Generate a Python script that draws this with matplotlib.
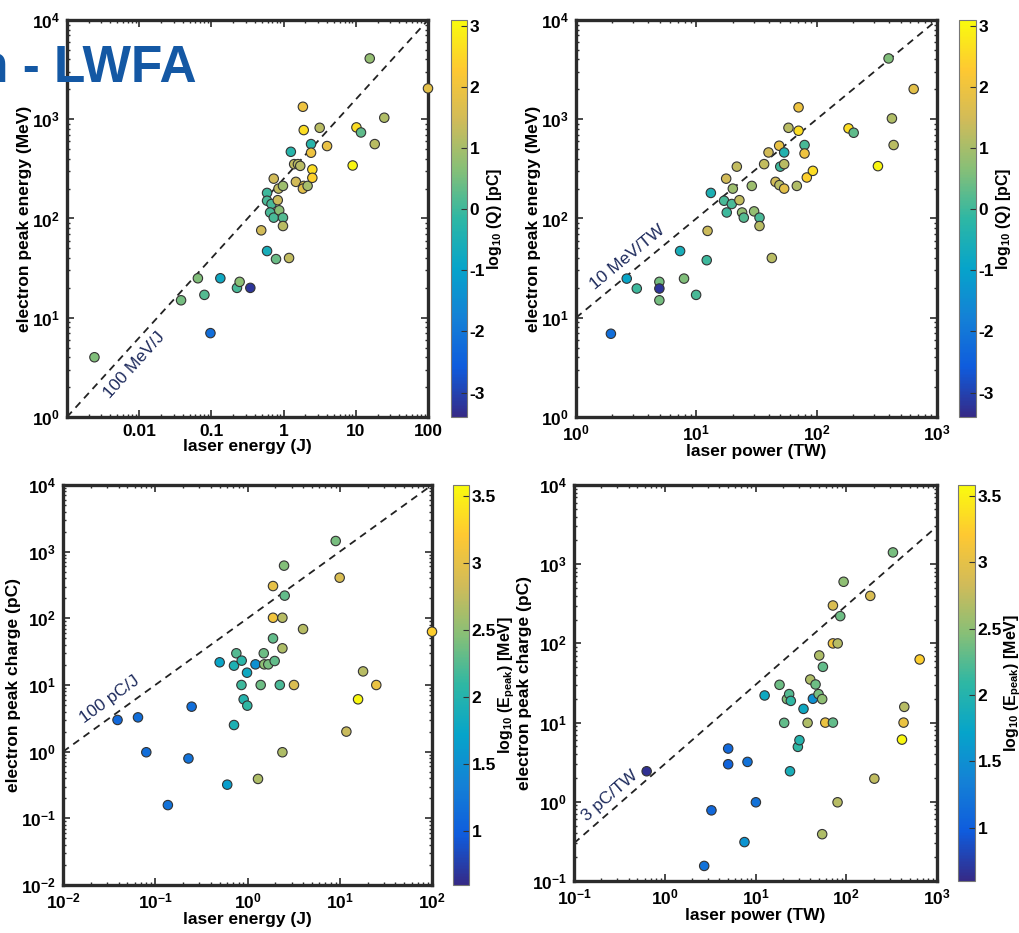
"""
Four log-log scatter panels (LWFA electron energy / charge vs laser energy / power),
coloured by log10 charge or log10 peak energy, MATLAB parula style.
"""

import numpy as np
import matplotlib
matplotlib.use("Agg")
import matplotlib.pyplot as plt
from matplotlib.colors import LinearSegmentedColormap
from matplotlib.ticker import FuncFormatter, FixedLocator

# ── Data ──────────────────────────────────────────────────────────────────────

# top-left: laser energy (J) vs electron peak energy (MeV), colour = log10 Q [pC]
energy_J_a = [0.0024, 0.038, 0.065, 0.08, 0.133, 0.097, 0.226, 0.246, 0.346, 0.49,
              0.59, 0.785, 1.19, 0.59, 0.59, 0.68, 0.65, 0.73, 0.73, 0.83,
              0.85, 0.98, 0.87, 0.98, 0.98, 1.26, 1.4, 1.58, 1.7, 1.48,
              1.85, 1.9, 1.9, 1.85, 2.15, 2.4, 2.4, 2.5, 2.5, 3.16,
              4.0, 9.05, 10.2, 11.8, 15.6, 18.3, 24.8, 100]
e_peak_MeV_a = [4.0, 15, 25, 17, 25, 7.0, 20, 23, 20, 76,
                47, 39, 40, 181, 151, 140, 115, 102, 252, 153,
                200, 213, 121, 102, 84, 470, 353, 353, 339, 234,
                1336, 778, 213, 200, 213, 562, 460, 312, 257, 820,
                537, 342, 828, 736, 4100, 562, 1036, 2047]
log_q_a = [0.6, 0.5, 0.6, 0.2, -0.8, -2.2, 0.1, 0.7, -3.2, 1.5,
           -0.6, 0.4, 1.3, 0.0, 0.1, 0.1, 0.1, 0.1, 1.5, 1.4,
           1.3, 0.9, 0.7, 0.2, 1.2, -0.3, 1.3, 1.2, 1.2, 1.5,
           2.0, 2.6, 1.7, 1.8, 1.0, -0.3, 2.0, 2.6, 2.4, 1.2,
           1.9, 3.0, 2.6, 0.3, 0.8, 1.2, 1.1, 1.8]

# top-right: laser power (TW) vs electron peak energy (MeV), colour = log10 Q [pC]
power_TW_b = [1.95, 2.64, 3.2, 4.93, 4.93, 4.93, 7.33, 7.9, 9.96, 12.2,
              12.4, 13.2, 17.0, 17.9, 17.7, 19.7, 20.1, 21.7, 22.8, 24.0,
              24.8, 28.9, 30.2, 33.5, 33.5, 36.6, 39.8, 42.4, 45.5, 48.8,
              49.0, 49.8, 53.7, 53.7, 53.7, 58.3, 68.4, 70.7, 70.7, 79.3,
              79.3, 82.8, 93.0, 184, 203, 323, 396, 422, 436, 640]
e_peak_MeV_b = [6.9, 24.8, 19.7, 23, 19.7, 15, 47, 24.8, 17, 38,
                75, 181, 151, 115, 252, 140, 200, 333, 153, 115,
                102, 213, 118, 102, 84, 353, 463, 40, 234, 541,
                217, 333, 463, 353, 200, 820, 213, 1318, 766, 550,
                452, 259, 302, 809, 731, 337, 4100, 1019, 550, 2016]
log_q_b = [-2.2, -0.9, 0.0, 0.5, -3.2, 0.5, -0.6, 0.6, 0.1, 0.0,
           1.4, -0.5, 0.1, 0.0, 1.5, 0.1, 0.9, 1.3, 1.3, 0.8,
           0.2, 0.9, 0.8, 0.1, 1.2, 1.3, 1.5, 1.2, 1.5, 1.9,
           1.2, 0.0, -0.4, 1.2, 1.8, 1.2, 1.1, 2.0, 2.6, 0.1,
           2.0, 2.4, 2.6, 2.6, 0.3, 3.0, 0.6, 1.1, 1.2, 1.8]

# bottom-left: laser energy (J) vs electron peak charge (pC), colour = log10 E_peak [MeV]
energy_J_c = [0.039, 0.065, 0.08, 0.137, 0.229, 0.248, 0.499, 0.603, 0.714, 0.714,
              0.757, 0.865, 0.86, 0.908, 0.995, 0.988, 1.22, 1.3, 1.39, 1.5,
              1.52, 1.68, 1.89, 1.89, 1.89, 1.97, 2.24, 2.39, 2.39, 2.39,
              2.49, 2.53, 3.19, 4.0, 9.04, 9.98, 11.8, 15.8, 17.9, 24.9, 100]
charge_pC_c = [2.99, 3.27, 0.98, 0.158, 0.79, 4.73, 21.9, 0.32, 2.51, 19.5,
               29.9, 23.2, 10, 6.1, 4.9, 15.3, 20.4, 0.39, 10, 29.9,
               20.4, 20.4, 305, 102, 50, 22.9, 10, 0.98, 102, 35.5,
               617, 219, 10, 69, 1445, 407, 2.0, 6.1, 16, 10, 63]
log_e_c = [1.1, 1.15, 1.15, 1.2, 1.2, 1.15, 1.75, 1.65, 1.95, 1.95,
           2.25, 2.05, 2.15, 2.0, 2.1, 1.8, 1.5, 2.65, 2.35, 2.35,
           2.5, 2.4, 3.0, 3.1, 2.3, 2.3, 2.2, 2.65, 2.7, 2.65,
           2.45, 2.3, 2.9, 2.7, 2.4, 2.9, 2.8, 3.55, 2.7, 3.05, 3.25]

# bottom-right: laser power (TW) vs electron peak charge (pC), colour = log10 E_peak [MeV]
power_TW_d = [0.632, 2.72, 3.27, 5.0, 5.0, 7.56, 8.16, 10.1, 12.6, 18.4,
              20.7, 22.2, 23.5, 24.5, 24.0, 29.3, 30.5, 33.8, 37.5, 40.1,
              42.9, 45.9, 49.5, 50.4, 54.3, 54.3, 55.3, 58.7, 71.3, 71.3,
              71.3, 80.2, 80.5, 85.9, 93.5, 184, 204, 327, 411, 436, 428, 644]
charge_pC_d = [2.43, 0.155, 0.78, 4.7, 2.98, 0.31, 3.19, 0.986, 22, 30,
               9.93, 19.8, 22.9, 18.8, 2.43, 4.94, 6.0, 14.9, 9.93, 35,
               20, 30.3, 22.9, 70.4, 0.39, 19.8, 50.6, 10, 10, 301,
               100, 0.986, 100, 221, 600, 398, 1.96, 1409, 6.1, 15.8, 10, 62.7]
log_e_d = [0.65, 1.2, 1.1, 1.1, 1.05, 1.55, 1.2, 1.2, 1.8, 2.35,
           2.3, 2.45, 2.25, 2.1, 1.9, 2.1, 2.0, 1.8, 2.65, 2.65,
           1.5, 2.35, 2.4, 2.65, 2.65, 2.5, 2.3, 3.05, 2.3, 2.9,
           3.1, 2.7, 2.7, 2.35, 2.5, 2.9, 2.75, 2.4, 3.55, 2.7, 3.05, 3.25]

# dashed guide lines (end points) and their labels
guide_a = ([1e-3, 1e2], [1e0, 1e4]); label_a = "100 MeV/J"
guide_b = ([1e0, 1e3], [1e1, 1e4]); label_b = "10 MeV/TW"
guide_c = ([1e-2, 1e2], [1e0, 1e4]); label_c = "100 pC/J"
guide_d = ([1e-1, 1e3], [3e-1, 3e3]); label_d = "3 pC/TW"

# ── Style ─────────────────────────────────────────────────────────────────────

plt.rcParams["font.family"] = ["Liberation Sans", "DejaVu Sans"]
plt.rcParams["font.weight"] = "bold"
plt.rcParams["axes.labelweight"] = "bold"
plt.rcParams["mathtext.fontset"] = "custom"
plt.rcParams["mathtext.rm"] = "Liberation Sans:bold"
plt.rcParams["mathtext.it"] = "Liberation Sans:italic:bold"
plt.rcParams["mathtext.bf"] = "Liberation Sans:bold"

# approximation of MATLAB's parula colormap
parula = LinearSegmentedColormap.from_list(
    "parula", ["#352A87", "#0F5CDD", "#1481D6", "#06A4CA", "#2EB7A4",
               "#87BF77", "#D1BB59", "#FEC832", "#F9FB0E"])

W, H = 1019, 933
fig = plt.figure(figsize=(W / 100, H / 100), dpi=100)


def px_axes(x0, y0, x1, y1):
    # axes from pixel box (top-left origin)
    return fig.add_axes([x0 / W, 1 - y1 / H, (x1 - x0) / W, (y1 - y0) / H])


pow10 = FuncFormatter(lambda v, p: r"$\mathrm{10^{%d}}$" % round(np.log10(v)))
plain = FuncFormatter(lambda v, p: "" if v < 0.005 else "%g" % v)


def style_axes(ax, xlim, ylim):
    ax.set_xscale("log")
    ax.set_yscale("log")
    ax.set_xlim(*xlim)
    ax.set_ylim(*ylim)
    for sp in ax.spines.values():
        sp.set_linewidth(2.4)
        sp.set_color("#2b2b2b")
    ax.tick_params(which="both", direction="in", top=True, right=True,
                   color="#2b2b2b", labelsize=12.5, pad=5)
    ax.tick_params(which="major", length=5, width=1.2)
    ax.tick_params(which="minor", length=2.5, width=1.0)
    ax.yaxis.set_major_formatter(pow10)
    ax.xaxis.set_major_formatter(pow10)


def panel(box, cbox, x, y, c, clim, xlim, ylim, guide, label, lab_xy, lab_rot,
          xlabel, ylabel, clabel, cticks):
    ax = px_axes(*box)
    style_axes(ax, xlim, ylim)
    ax.plot(guide[0], guide[1], color="#222222", lw=1.3, ls=(0, (4, 3)), zorder=2)
    ax.text(lab_xy[0], lab_xy[1], label, rotation=lab_rot, rotation_mode="anchor",
            ha="center", va="center", color="#1d2a5c", fontsize=12.5,
            fontweight="normal", zorder=3)
    sc = ax.scatter(x, y, c=c, cmap=parula, vmin=clim[0], vmax=clim[1], s=46,
                    edgecolors="#333333", linewidths=0.8, zorder=4, clip_on=False)
    ax.set_xlabel(xlabel, fontsize=12.5, labelpad=0)
    ax.set_ylabel(ylabel, fontsize=12.5, labelpad=0)

    cax = px_axes(*cbox)
    cb = fig.colorbar(sc, cax=cax)
    cb.outline.set_linewidth(0.8)
    cb.outline.set_edgecolor("#777777")
    cb.set_ticks(cticks)
    cb.set_ticklabels(["%g" % t for t in cticks])
    cax.tick_params(direction="in", length=4, width=0.8, labelsize=12.5,
                    color="#333333", pad=2)
    cb.set_label(clabel, fontsize=11.5, labelpad=0)
    return ax


# ── Panels ────────────────────────────────────────────────────────────────────

ax1 = panel((67, 20, 428, 417), (451, 20, 467, 417),
            energy_J_a, e_peak_MeV_a, log_q_a, (-3.4, 3.1), (1e-3, 1e2), (1e0, 1e4),
            guide_a, label_a, (0.0085, 3.3), 48,
            "laser energy (J)", "electron peak energy (MeV)",
            r"log$_{10}$ (Q) [pC]", [-3, -2, -1, 0, 1, 2, 3])
ax1.xaxis.set_major_locator(FixedLocator([1e-3, 1e-2, 1e-1, 1e0, 1e1, 1e2]))
ax1.xaxis.set_major_formatter(plain)

panel((576, 20, 937, 417), (959, 20, 976, 417),
      power_TW_b, e_peak_MeV_b, log_q_b, (-3.4, 3.1), (1e0, 1e3), (1e0, 1e4),
      guide_b, label_b, (2.7, 41), 39.5,
      "laser power (TW)", "electron peak energy (MeV)",
      r"log$_{10}$ (Q) [pC]", [-3, -2, -1, 0, 1, 2, 3])

panel((63, 485, 432, 885), (453, 485, 469, 885),
      energy_J_c, charge_pC_c, log_e_c, (0.6, 3.58), (1e-2, 1e2), (1e-2, 1e4),
      guide_c, label_c, (0.032, 6.0), 36,
      "laser energy (J)", "electron peak charge (pC)",
      r"log$_{10}$ (E$_{\mathrm{peak}}$) [MeV]", [1, 1.5, 2, 2.5, 3, 3.5])

panel((574, 485, 937, 881), (958, 485, 975, 881),
      power_TW_d, charge_pC_d, log_e_d, (0.6, 3.58), (1e-1, 1e3), (1e-1, 1e4),
      guide_d, label_d, (0.25, 1.2), 41,
      "laser power (TW)", "electron peak charge (pC)",
      r"log$_{10}$ (E$_{\mathrm{peak}}$) [MeV]", [1, 1.5, 2, 2.5, 3, 3.5])

# slide title fragment overlapping the top-left panel
fig.text(197 / W, 1 - 82 / H, "n - LWFA", ha="right", va="baseline",
         color="#1458a4", fontsize=37, fontweight="bold", zorder=10)

fig.savefig("out.png", dpi=100, facecolor="white")
